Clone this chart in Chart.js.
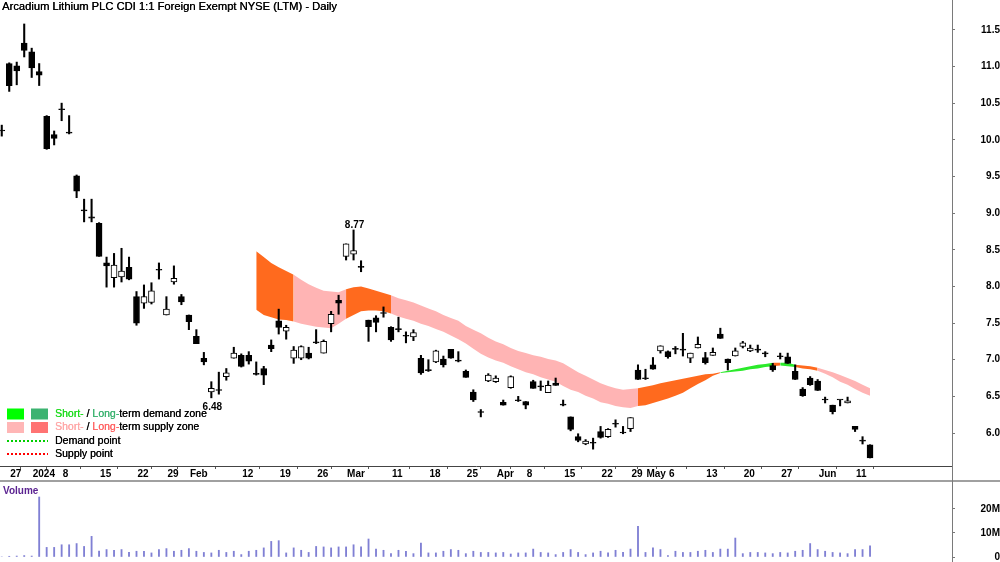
<!DOCTYPE html>
<html><head><meta charset="utf-8">
<script src="https://cdn.jsdelivr.net/npm/chart.js@4.4.1/dist/chart.umd.min.js"></script>
<style>
html,body{margin:0;padding:0;background:#fff;}
#wrap{position:relative;width:1000px;height:562px;overflow:hidden;background:#fff;}
#price{position:absolute;left:0;top:0;}
#vol{position:absolute;left:0;top:480px;}
</style></head><body>
<div id="wrap"><canvas id="price" width="1000" height="480"></canvas><canvas id="vol" width="1000" height="82"></canvas></div>
<script>
const titleText = 'Arcadium Lithium PLC CDI 1:1 Foreign Exempt NYSE (LTM) - Daily';

const dates = [
'2023-12-22','2023-12-27','2023-12-28','2023-12-29',
'2024-01-02','2024-01-03','2024-01-04','2024-01-05',
'2024-01-08','2024-01-09','2024-01-10','2024-01-11','2024-01-12',
'2024-01-15','2024-01-16','2024-01-17','2024-01-18','2024-01-19',
'2024-01-22','2024-01-23','2024-01-24','2024-01-25',
'2024-01-29','2024-01-30','2024-01-31','2024-02-01','2024-02-02',
'2024-02-05','2024-02-06','2024-02-07','2024-02-08','2024-02-09',
'2024-02-12','2024-02-13','2024-02-14','2024-02-15','2024-02-16',
'2024-02-19','2024-02-20','2024-02-21','2024-02-22','2024-02-23',
'2024-02-26','2024-02-27','2024-02-28','2024-02-29','2024-03-01',
'2024-03-04','2024-03-05','2024-03-06','2024-03-07','2024-03-08',
'2024-03-11','2024-03-12','2024-03-13','2024-03-14','2024-03-15',
'2024-03-18','2024-03-19','2024-03-20','2024-03-21','2024-03-22',
'2024-03-25','2024-03-26','2024-03-27','2024-03-28',
'2024-04-02','2024-04-03','2024-04-04','2024-04-05',
'2024-04-08','2024-04-09','2024-04-10','2024-04-11','2024-04-12',
'2024-04-15','2024-04-16','2024-04-17','2024-04-18','2024-04-19',
'2024-04-22','2024-04-23','2024-04-24','2024-04-26',
'2024-04-29','2024-04-30','2024-05-01','2024-05-02','2024-05-03',
'2024-05-06','2024-05-07','2024-05-08','2024-05-09','2024-05-10',
'2024-05-13','2024-05-14','2024-05-15','2024-05-16','2024-05-17',
'2024-05-20','2024-05-21','2024-05-22','2024-05-23','2024-05-24',
'2024-05-27','2024-05-28','2024-05-29','2024-05-30','2024-05-31',
'2024-06-03','2024-06-04','2024-06-05','2024-06-06','2024-06-07',
'2024-06-11','2024-06-12','2024-06-13'];

const opens = [10.12,11.04,11.01,11.32,11.20,10.93,10.32,10.07,10.41,10.09,
9.51,9.03,8.95,8.86,8.32,8.12,8.13,8.26,7.86,7.77,
7.78,8.22,7.61,8.06,7.86,7.61,7.32,7.02,6.56,6.58,
6.77,7.02,7.06,7.06,6.80,6.88,7.20,7.53,7.39,7.02,
7.02,7.09,7.23,7.09,7.49,7.81,8.41,8.44,8.26,7.54,
7.57,7.63,7.44,7.41,7.32,7.31,7.02,6.85,6.97,7.01,
7.14,6.98,6.84,6.56,6.28,6.71,6.70,6.42,6.62,6.44,
6.43,6.70,6.63,6.55,6.68,6.38,6.22,5.95,5.85,5.86,
6.02,5.95,6.12,6.00,6.06,6.86,6.74,6.93,7.12,7.11,
7.14,7.13,7.02,7.16,7.03,7.06,7.35,7.01,7.05,7.18,
7.12,7.13,7.08,6.92,7.04,7.04,6.84,6.60,6.75,6.71,
6.45,6.38,6.45,6.41,6.09,5.89,5.84];
const highs = [10.20,11.05,11.06,11.58,11.25,11.04,10.33,10.12,10.50,10.33,
9.52,9.19,9.19,8.87,8.40,8.45,8.52,8.40,7.93,8.02,
8.05,8.32,7.86,8.28,7.89,7.61,7.41,7.10,6.70,6.83,
6.88,7.17,7.08,7.11,6.97,6.91,7.27,7.69,7.47,7.18,
7.19,7.17,7.41,7.27,7.66,7.88,8.58,8.77,8.35,7.54,
7.60,7.72,7.45,7.58,7.38,7.41,7.06,7.00,7.13,7.05,
7.14,7.11,6.86,6.59,6.32,6.81,6.78,6.45,6.78,6.50,
6.43,6.72,6.71,6.71,6.75,6.45,6.22,5.99,5.91,5.93,
6.09,6.06,6.18,6.09,6.21,6.93,6.87,7.03,7.19,7.12,
7.18,7.36,7.09,7.31,7.10,7.16,7.43,7.01,7.16,7.25,
7.20,7.20,7.11,6.95,7.09,7.09,6.93,6.62,6.77,6.73,
6.49,6.38,6.45,6.49,6.09,5.95,5.84];
const lows = [10.05,10.66,10.75,11.13,10.85,10.74,9.87,9.93,10.26,10.08,
9.21,8.88,8.88,8.41,7.99,7.99,8.06,8.09,7.47,7.70,
7.76,8.10,7.61,8.03,7.75,7.41,7.22,6.93,6.48,6.53,
6.72,7.02,6.90,6.94,6.79,6.66,7.11,7.35,7.28,6.95,
7.00,7.01,7.22,7.09,7.38,7.62,8.36,8.36,8.20,7.25,
7.38,7.58,7.25,7.38,7.23,7.26,6.80,6.84,6.96,6.90,
7.02,6.97,6.76,6.43,6.22,6.70,6.69,6.38,6.61,6.43,
6.33,6.61,6.58,6.55,6.65,6.37,6.03,5.88,5.84,5.78,
5.93,5.94,6.08,5.99,6.02,6.73,6.73,6.87,7.09,7.02,
7.08,7.05,6.96,7.16,6.94,7.06,7.29,6.86,7.05,7.16,
7.11,7.10,7.04,6.84,7.01,6.95,6.73,6.50,6.65,6.58,
6.41,6.26,6.37,6.41,6.02,5.85,5.66];
const closes = [10.12,10.74,10.94,11.22,10.98,10.88,9.88,10.02,10.41,10.09,
9.30,9.03,8.93,8.41,8.28,8.29,8.21,8.10,7.50,7.86,
7.94,8.22,7.69,8.11,7.79,7.52,7.22,6.97,6.61,6.58,
6.82,7.09,6.91,6.98,6.80,6.79,7.15,7.44,7.44,7.13,
7.18,7.02,7.23,7.25,7.62,7.77,8.58,8.49,8.26,7.45,
7.51,7.63,7.27,7.41,7.32,7.37,6.82,6.85,7.12,6.93,
7.02,6.98,6.76,6.45,6.28,6.79,6.75,6.38,6.77,6.44,
6.38,6.61,6.63,6.65,6.65,6.38,6.05,5.90,5.89,5.86,
5.94,6.05,6.12,6.00,6.21,6.73,6.74,6.87,7.19,7.04,
7.14,7.13,7.09,7.21,6.96,7.10,7.29,6.96,7.12,7.23,
7.16,7.13,7.08,6.86,7.04,6.95,6.73,6.51,6.66,6.58,
6.45,6.29,6.45,6.44,6.05,5.89,5.66];

// volume in millions
const volumeM = [0,0.3,0.4,0.6,0.4,25.0,4.0,4.0,5.1,5.1,
5.6,4.4,8.6,2.5,3.1,2.8,3.1,1.9,2.4,2.4,
1.7,3.1,3.5,2.4,2.8,3.5,2.4,1.9,1.7,2.8,
1.9,2.4,1.0,2.4,2.8,3.8,6.5,6.8,1.7,3.8,
2.8,1.9,4.4,4.2,3.8,4.2,4.2,5.1,4.2,7.5,
3.3,2.8,1.4,2.8,2.4,1.4,5.8,1.7,1.7,2.4,
3.1,2.8,1.4,2.4,1.9,1.9,1.7,1.9,1.25,1.7,
1.7,3.3,1.9,1.7,1.0,1.9,3.1,1.9,1.0,1.7,
2.4,1.7,2.8,1.9,3.3,12.8,1.9,3.8,3.1,0.6,
2.4,1.9,1.9,2.4,2.8,1.9,3.3,3.3,7.9,1.4,
1.9,1.9,1.7,1.4,1.9,1.7,2.4,2.8,5.6,3.1,
2.4,1.9,1.7,1.4,3.1,3.1,4.7];

// supply / demand zone band, from 2024-02-14 to the last bar
const zoneStartDate = '2024-02-14';
const zoneTop = [8.48,8.40,8.32,8.26,8.21,8.16,8.09,8.03,7.98,7.94,
7.93,7.92,7.96,7.99,8.00,7.97,7.94,7.91,7.88,7.84,
7.81,7.78,7.74,7.70,7.66,7.61,7.57,7.53,7.46,7.41,
7.36,7.30,7.25,7.21,7.16,7.12,7.09,7.06,7.04,7.01,
6.99,6.95,6.89,6.83,6.78,6.73,6.68,6.64,6.61,6.59,
6.60,6.61,6.63,6.65,6.68,6.70,6.72,6.74,6.76,6.78,
6.80,6.81,6.83,6.85,6.87,6.89,6.91,6.93,6.94,6.96,
6.96,6.96,6.93,6.92,6.91,6.89,6.86,6.83,6.79,6.75,
6.71,6.66,6.61];
const zoneBottom = [7.68,7.61,7.58,7.55,7.54,7.52,7.49,7.47,7.45,7.44,
7.43,7.49,7.56,7.61,7.66,7.67,7.67,7.66,7.63,7.59,
7.56,7.53,7.49,7.46,7.42,7.38,7.33,7.28,7.22,7.15,
7.08,7.03,6.99,6.96,6.91,6.87,6.83,6.80,6.76,6.73,
6.70,6.64,6.59,6.56,6.51,6.47,6.42,6.40,6.37,6.35,
6.34,6.37,6.38,6.41,6.44,6.47,6.51,6.55,6.61,6.67,
6.72,6.78,6.82,6.83,6.84,6.85,6.87,6.88,6.90,6.91,
6.92,6.91,6.90,6.88,6.87,6.85,6.81,6.76,6.70,6.66,
6.60,6.55,6.51];
// LS = long-term supply, SS = short-term supply, SD = short-term demand
const zoneType = ['LS','LS','LS','LS','LS',
'SS','SS','SS','SS','SS','SS','SS',
'LS','LS','LS','LS','LS','LS',
'SS','SS','SS','SS','SS','SS','SS','SS','SS','SS','SS','SS','SS','SS','SS','SS','SS',
'SS','SS','SS','SS','SS','SS','SS','SS','SS','SS','SS','SS','SS','SS','SS','SS',
'LS','LS','LS','LS','LS','LS','LS','LS','LS','LS','LS',
'SD','SD','SD','SD','SD','SD','SD',
'LS',
'SD','SD',
'LS','LS','LS',
'SS','SS','SS','SS','SS','SS','SS','SS'];
const zoneColors = {LS:'#FF6A1E', SS:'#FFB4B4', SD:'#2BEA2B'};

const tickDates = ['2023-12-27','2024-01-02','2024-01-08','2024-01-15','2024-01-22','2024-01-29','2024-02-01',
'2024-02-12','2024-02-19','2024-02-26','2024-03-01','2024-03-11','2024-03-18','2024-03-25','2024-04-02',
'2024-04-08','2024-04-15','2024-04-22','2024-04-29','2024-05-01','2024-05-06','2024-05-13','2024-05-20',
'2024-05-27','2024-06-03','2024-06-11'];
const tickLabels = ['27','2024','8','15','22','29','Feb','12','19','26','Mar','11','18','25','Apr',
'8','15','22','29','May','6','13','20','27','Jun','11'];
const priceTicks = [6.0,6.5,7.0,7.5,8.0,8.5,9.0,9.5,10.0,10.5,11.0,11.5];
const volumeTicks = [0,10,20];
const volumeTickLabels = ['0','10M','20M'];

const notes = [
  {date:'2024-03-04', value:8.77, text:'8.77', pos:'above'},
  {date:'2024-02-06', value:6.48, text:'6.48', pos:'below'}
];

const legendRows = [
  {kind:'rect', colors:['#00FF00','#3CB371'], parts:[['Short-','#1EDC1E'],[' / ','#000'],['Long-','#3CB371'],['term demand zone','#000']]},
  {kind:'rect', colors:['#FFB6B6','#FF7373'], parts:[['Short-','#FFA8A8'],[' / ','#000'],['Long-','#FF6464'],['term supply zone','#000']]},
  {kind:'dot', colors:['#00D000'], parts:[['Demand point','#000']]},
  {kind:'dot', colors:['#FF0000'], parts:[['Supply point','#000']]}
];

// ---------- layout constants ----------
const FONT = '"Liberation Sans", Arial, Helvetica, sans-serif';
const X_MIN = -0.235, X_MAX = 126.95;
const Y_MIN = 5.55, Y_MAX = 11.907;
const VOL_MAX = 30.83;

Chart.defaults.font.family = FONT;
Chart.defaults.animation = false;

const zoneStart = dates.indexOf(zoneStartDate);
const tickIdx = tickDates.map(d => dates.indexOf(d));

const priceDecor = {
  id: 'priceDecor',
  afterDraw(chart) {
    const {ctx, chartArea} = chart;
    const xs = chart.scales.x, ys = chart.scales.y;
    ctx.save();
    ctx.strokeStyle = '#7a7a7a'; ctx.lineWidth = 1;
    ctx.beginPath(); ctx.moveTo(Math.round(chartArea.right) + 0.5, 0); ctx.lineTo(Math.round(chartArea.right) + 0.5, chart.height); ctx.stroke();

    ctx.fillStyle = '#000'; ctx.textAlign = 'left'; ctx.textBaseline = 'alphabetic';
    ctx.font = '11.2px ' + FONT;
    ctx.fillText(titleText, 2, 10);
    ctx.fillText(titleText, 2.3, 10);

    ctx.font = 'bold 10px ' + FONT; ctx.textAlign = 'center';
    notes.forEach(n => {
      const i = dates.indexOf(n.date);
      const px = xs.getPixelForValue(i), py = ys.getPixelForValue(n.value);
      ctx.fillText(n.text, px + 1, n.pos === 'above' ? py - 2 : py + 12);
    });

    // legend
    ctx.textAlign = 'left'; ctx.textBaseline = 'middle';
    ctx.font = '10.5px ' + FONT;
    const rowY = [414, 427.5, 441, 454];
    legendRows.forEach((r, k) => {
      const y = rowY[k];
      if (r.kind === 'rect') {
        ctx.fillStyle = r.colors[0]; ctx.fillRect(7, y - 5.5, 17, 11);
        ctx.fillStyle = r.colors[1]; ctx.fillRect(31, y - 5.5, 17, 11);
      } else {
        ctx.strokeStyle = r.colors[0]; ctx.lineWidth = 2; ctx.setLineDash([2, 2]);
        ctx.beginPath(); ctx.moveTo(7, y); ctx.lineTo(48, y); ctx.stroke(); ctx.setLineDash([]);
      }
      let x = 55;
      r.parts.forEach(([t, c]) => {
        ctx.fillStyle = c; ctx.fillText(t, x, y); ctx.fillText(t, x + 0.25, y);
        x += ctx.measureText(t).width;
      });
    });
    ctx.restore();
  }
};

const labelFont = {family: FONT, size: 10, weight: 'bold', lineHeight: 1};

new Chart(document.getElementById('price'), {
  type: 'bar',
  data: {
    datasets: [
      {
        type: 'bar', label: 'body',
        data: dates.map((d, i) => ({x: i, y: [Math.min(opens[i], closes[i]), Math.max(opens[i], closes[i])]})),
        barThickness: 6, grouped: false, minBarLength: 1, borderSkipped: false,
        backgroundColor: c => closes[c.dataIndex] > opens[c.dataIndex] ? '#ffffff' : '#000000',
        borderColor: '#000000', borderWidth: 1
      },
      {
        type: 'bar', label: 'wick',
        data: dates.map((d, i) => ({x: i, y: [lows[i], highs[i]]})),
        barThickness: 1.4, grouped: false, minBarLength: 1, borderSkipped: false,
        backgroundColor: '#000000', borderWidth: 0
      },
      {
        type: 'line', label: 'zoneTop',
        data: zoneTop.map((v, k) => ({x: zoneStart + k, y: v})),
        borderColor: 'rgba(0,0,0,0)', borderWidth: 1, pointRadius: 0, fill: false, tension: 0
      },
      {
        type: 'line', label: 'zoneBottom',
        data: zoneBottom.map((v, k) => ({x: zoneStart + k, y: v})),
        borderColor: 'rgba(0,0,0,0)', borderWidth: 1, pointRadius: 0, tension: 0,
        fill: '-1', backgroundColor: zoneColors.SS,
        segment: { backgroundColor: c => zoneColors[zoneType[c.p0DataIndex]] }
      }
    ]
  },
  options: {
    responsive: false, animation: false, devicePixelRatio: 1,
    layout: {padding: 0, autoPadding: false},
    plugins: {legend: {display: false}, tooltip: {enabled: false}, title: {display: false}},
    scales: {
      x: {
        type: 'linear', min: X_MIN, max: X_MAX, offset: false,
        afterBuildTicks: s => { s.ticks = tickIdx.map(v => ({value: v})); },
        afterFit: s => { s.height = 14; s.paddingLeft = 0; s.paddingRight = 0; },
        ticks: {
          callback: (v, i) => tickLabels[i], autoSkip: false, maxRotation: 0, minRotation: 0,
          align: 'start', labelOffset: 1, padding: 0, color: '#000', font: labelFont
        },
        grid: {drawOnChartArea: false, drawTicks: true, tickLength: 3, color: '#555'},
        border: {display: true, color: '#444', width: 1}
      },
      y: {
        type: 'linear', position: 'right', min: Y_MIN, max: Y_MAX,
        afterBuildTicks: s => { s.ticks = priceTicks.map(v => ({value: v})); },
        afterFit: s => { s.width = 48; s.paddingTop = 0; s.paddingBottom = 0; },
        ticks: {callback: v => v.toFixed(1), crossAlign: 'far', padding: 20, color: '#000', font: labelFont},
        grid: {drawOnChartArea: false, drawTicks: true, tickLength: 3, color: '#777'},
        border: {display: false}
      }
    }
  },
  plugins: [priceDecor]
});

const volDecor = {
  id: 'volDecor',
  afterDraw(chart) {
    const {ctx, chartArea} = chart;
    ctx.save();
    ctx.fillStyle = '#a0a0a0'; ctx.fillRect(0, 0, chart.width, 2);
    ctx.strokeStyle = '#7a7a7a'; ctx.lineWidth = 1;
    ctx.beginPath(); ctx.moveTo(Math.round(chartArea.right) + 0.5, 0); ctx.lineTo(Math.round(chartArea.right) + 0.5, chart.height); ctx.stroke();
    ctx.fillStyle = '#5B2391'; ctx.font = 'bold 10px ' + FONT; ctx.textAlign = 'left'; ctx.textBaseline = 'alphabetic';
    ctx.fillText('Volume', 3, 14);
    ctx.restore();
  }
};

new Chart(document.getElementById('vol'), {
  type: 'bar',
  data: {
    datasets: [{
      label: 'Volume',
      data: volumeM.map((v, i) => ({x: i, y: v})),
      barThickness: 1.2, grouped: false, backgroundColor: '#8080d4', borderWidth: 0
    }]
  },
  options: {
    responsive: false, animation: false, devicePixelRatio: 1,
    layout: {padding: {top: 3, bottom: 5, left: 0, right: 0}, autoPadding: false},
    plugins: {legend: {display: false}, tooltip: {enabled: false}},
    scales: {
      x: {type: 'linear', min: X_MIN, max: X_MAX, display: false, offset: false},
      y: {
        type: 'linear', position: 'right', min: 0, max: VOL_MAX,
        afterBuildTicks: s => { s.ticks = volumeTicks.map(v => ({value: v})); },
        afterFit: s => { s.width = 48; s.paddingTop = 0; s.paddingBottom = 0; },
        ticks: {callback: (v, i) => volumeTickLabels[i], crossAlign: 'far', padding: 20, color: '#000', font: labelFont},
        grid: {drawOnChartArea: false, drawTicks: true, tickLength: 3, color: '#777'},
        border: {display: false}
      }
    }
  },
  plugins: [volDecor]
});
</script>
</body></html>
